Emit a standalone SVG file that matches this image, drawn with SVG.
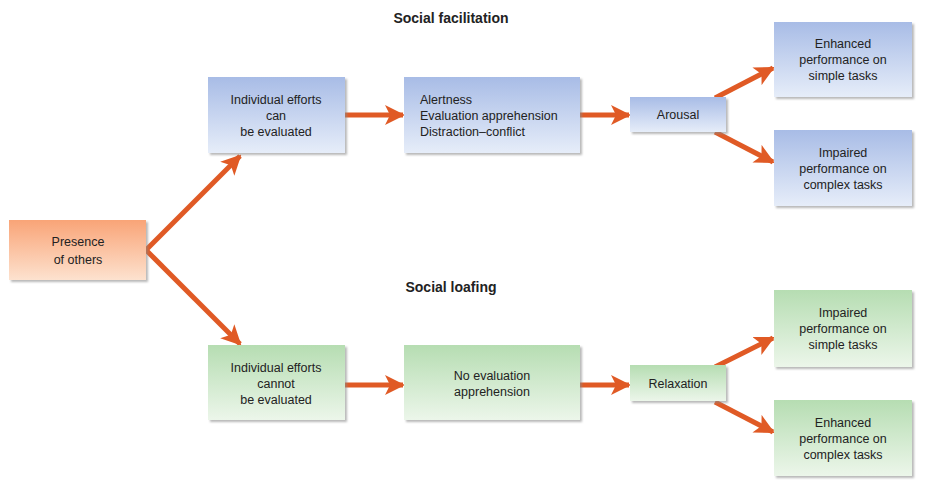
<svg xmlns="http://www.w3.org/2000/svg" width="925" height="486" viewBox="0 0 925 486">
<defs>
<linearGradient id="gb" x1="0" y1="0" x2="0" y2="1"><stop offset="0" stop-color="#a8bce6"/><stop offset="1" stop-color="#e6edf9"/></linearGradient>
<linearGradient id="gg" x1="0" y1="0" x2="0" y2="1"><stop offset="0" stop-color="#b6ddb2"/><stop offset="1" stop-color="#ecf6ea"/></linearGradient>
<linearGradient id="go" x1="0" y1="0" x2="0" y2="1"><stop offset="0" stop-color="#f9a477"/><stop offset="1" stop-color="#fde2cf"/></linearGradient>
<filter id="sh" x="-10%" y="-10%" width="130%" height="130%"><feDropShadow dx="2" dy="2" stdDeviation="1" flood-color="#888" flood-opacity="0.6"/></filter>
<marker id="ah" viewBox="0 0 10 10" refX="9" refY="5" markerWidth="4" markerHeight="4" orient="auto" markerUnits="strokeWidth"><path d="M0,0 L10,5 L0,10 L2.5,5 z" fill="#e05a25"/></marker>
</defs>
<style>
.b{fill:url(#gb);filter:url(#sh)}
.g{fill:url(#gg);filter:url(#sh)}
.o{fill:url(#go);filter:url(#sh)}
text{font-family:"Liberation Sans",Arial,sans-serif;font-size:12.5px;fill:#222;text-anchor:middle}
.t{font-weight:bold;font-size:14px}
#conn line{stroke:#e05a25;stroke-width:5;marker-end:url(#ah)}
</style>
<rect width="925" height="486" fill="#fff"/>
<text class="t" x="451" y="23">Social facilitation</text>
<text class="t" x="451" y="292">Social loafing</text>
<g id="conn">
<line x1="146" y1="250" x2="240" y2="156"/>
<line x1="146" y1="250" x2="240" y2="344"/>
<line x1="345" y1="115" x2="403" y2="115"/>
<line x1="580" y1="115" x2="629" y2="115"/>
<line x1="715" y1="98" x2="773" y2="68"/>
<line x1="715" y1="132" x2="773" y2="162"/>
<line x1="345" y1="385" x2="403" y2="385"/>
<line x1="580" y1="385" x2="629" y2="385"/>
<line x1="715" y1="367" x2="773" y2="338"/>
<line x1="715" y1="402" x2="773" y2="432"/>
</g>
<g id="presence"><rect class="o" x="9" y="220" width="137" height="60"/><text x="78" y="246">Presence</text><text x="78" y="264">of others</text></g>
<g id="can"><rect class="b" x="208" y="77" width="137" height="76"/><text x="276" y="104">Individual efforts</text><text x="276" y="120">can</text><text x="276" y="136">be evaluated</text></g>
<g id="alert"><rect class="b" x="404" y="77" width="176" height="76"/><text x="420" y="104" style="text-anchor:start">Alertness</text><text x="420" y="120" style="text-anchor:start">Evaluation apprehension</text><text x="420" y="136" style="text-anchor:start">Distraction–conflict</text></g>
<g id="arousal"><rect class="b" x="630" y="97" width="96" height="35"/><text x="678" y="119">Arousal</text></g>
<g id="enh-simple"><rect class="b" x="774" y="22" width="138" height="75"/><text x="843" y="48">Enhanced</text><text x="843" y="64">performance on</text><text x="843" y="80">simple tasks</text></g>
<g id="imp-complex"><rect class="b" x="774" y="130" width="138" height="76"/><text x="843" y="157">Impaired</text><text x="843" y="173">performance on</text><text x="843" y="189">complex tasks</text></g>
<g id="cannot"><rect class="g" x="208" y="345" width="137" height="75"/><text x="276" y="372">Individual efforts</text><text x="276" y="388">cannot</text><text x="276" y="404">be evaluated</text></g>
<g id="noeval"><rect class="g" x="404" y="345" width="176" height="75"/><text x="492" y="380">No evaluation</text><text x="492" y="396">apprehension</text></g>
<g id="relax"><rect class="g" x="630" y="365" width="96" height="36"/><text x="678" y="388">Relaxation</text></g>
<g id="imp-simple"><rect class="g" x="774" y="290" width="138" height="77"/><text x="843" y="317">Impaired</text><text x="843" y="333">performance on</text><text x="843" y="349">simple tasks</text></g>
<g id="enh-complex"><rect class="g" x="774" y="400" width="138" height="76"/><text x="843" y="427">Enhanced</text><text x="843" y="443">performance on</text><text x="843" y="459">complex tasks</text></g>
</svg>
